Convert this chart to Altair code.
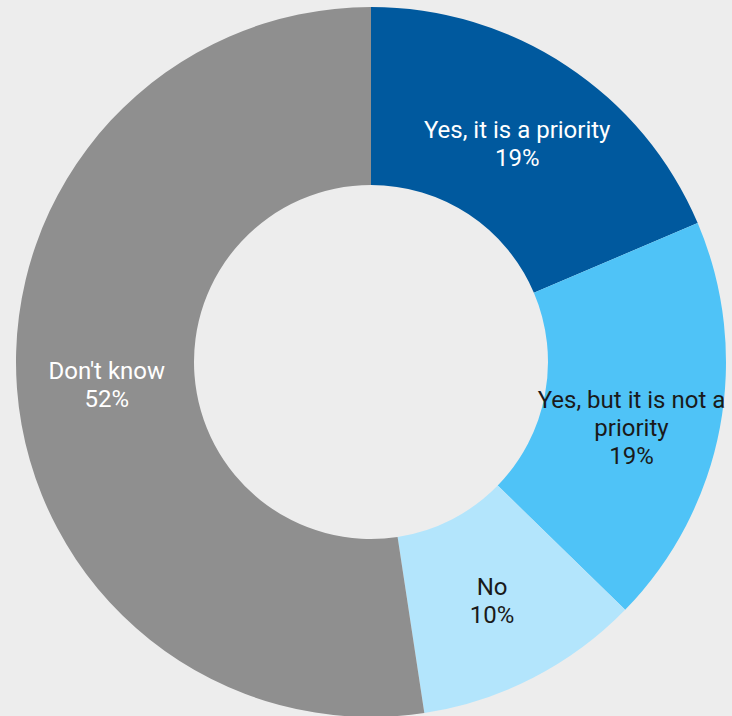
import altair as alt
import pandas as pd

categories = ["Yes, it is a priority", "Yes, but it is not a priority", "No", "Don't know"]
label_lines = [["Yes, it is a priority"], ["Yes, but it is not a", "priority"], ["No"], ["Don't know"]]
values = [18.6, 18.7, 10.3, 52.4]
colors = ["#00599E", "#4FC3F7", "#B3E5FC", "#8F8F8F"]
text_colors = ["#FFFFFF", "#1A1A1A", "#1A1A1A", "#FFFFFF"]

df = pd.DataFrame({
    "category": categories,
    "value": values,
    "order": list(range(len(categories))),
    "label": [lines + [f"{round(v)}%"] for lines, v in zip(label_lines, values)],
    "tcolor": text_colors,
})

base = alt.Chart(df).encode(
    theta=alt.Theta("value:Q", stack=True),
    order=alt.Order("order:Q", sort="ascending"),
)

arcs = base.mark_arc(innerRadius=177, outerRadius=355).encode(
    color=alt.Color("category:N", scale=alt.Scale(domain=categories, range=colors), legend=None),
    x=alt.value(371),
    y=alt.value(362),
)

texts = base.mark_text(radius=265, fontSize=24, font="Roboto", lineHeight=28,
                       baseline="middle", align="center", dy=-10).encode(
    text="label",
    color=alt.Color("tcolor:N", scale=None),
    x=alt.value(371),
    y=alt.value(362),
)

chart = (arcs + texts).properties(
    width=732, height=716, padding=0, background="#EDEDED",
    autosize=alt.AutoSizeParams(type="none"),
).configure_view(stroke=None)

chart.save("out.html", embed_options={"renderer": "svg", "actions": False})
